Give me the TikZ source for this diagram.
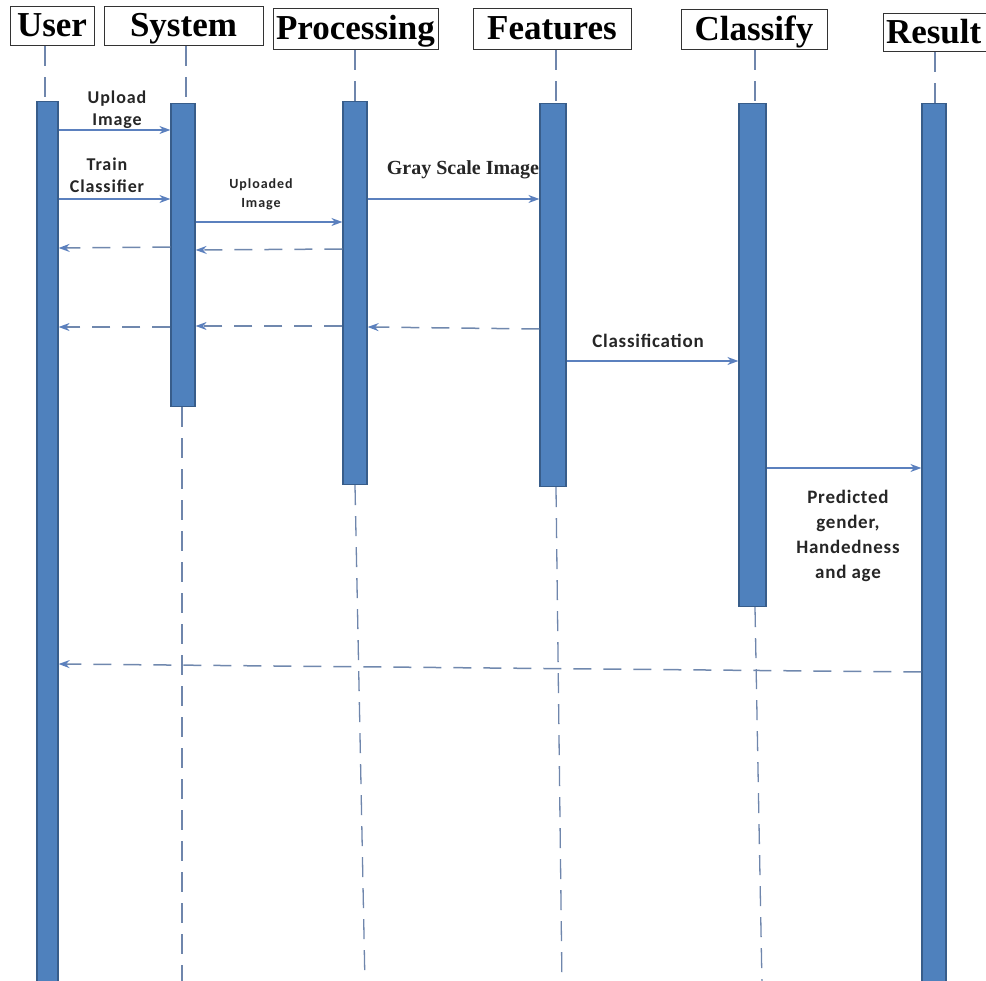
\documentclass[tikz,border=0pt]{standalone}
\usepackage{fontspec}
\setmainfont{Liberation Serif}
\newfontfamily\lblfont{Carlito}
\usetikzlibrary{arrows.meta}
\definecolor{barfill}{HTML}{4F81BD}
\definecolor{barline}{HTML}{385D8A}
\definecolor{msgcol}{HTML}{5B80BE}
\definecolor{retcol}{HTML}{7088AE}
\definecolor{lifecol}{HTML}{6F86AC}
\begin{document}
\begin{tikzpicture}[x=1pt,y=-1pt,
  header/.style={draw=black!80,line width=1pt,inner sep=0pt,
    font=\fontsize{35}{38}\selectfont\bfseries,text height=24pt,text depth=3pt},
  actbar/.style={draw=barline,fill=barfill,line width=1.2pt,inner sep=0pt,anchor=north},
  lifeline/.style={draw=lifecol,line width=1.3pt,dash pattern=on 20pt off 11pt},
  msg/.style={draw=msgcol,line width=1.5pt,-{Stealth[length=11pt,width=8pt]}},
  ret/.style={draw=retcol,line width=1.5pt,dash pattern=on 18pt off 12pt,
    -{Stealth[length=11pt,width=8pt,color=msgcol]}},
  lbl/.style={font=\lblfont\bfseries\fontsize{18}{22}\selectfont\addfontfeature{LetterSpace=5},
    align=center,inner sep=0pt,text=black!85},
  smalllbl/.style={font=\lblfont\bfseries\fontsize{14}{19}\selectfont\addfontfeature{LetterSpace=7},
    align=center,inner sep=0pt,text=black!85},
  widelbl/.style={font=\lblfont\bfseries\fontsize{19}{25}\selectfont\addfontfeature{LetterSpace=4},
    align=center,inner sep=0pt,text=black!85},
  seriflbl/.style={font=\bfseries\fontsize{20}{22}\selectfont,inner sep=0pt,text=black!85}]
\useasboundingbox (0,0) rectangle (986,981);

% participant headers
\node[header,minimum width=84pt,minimum height=39pt] (hUser) at (52,26.5) {User};
\node[header,minimum width=159pt,minimum height=39pt] (hSys) at (183.5,26.5) {System};
\node[header,minimum width=165pt,minimum height=41pt] (hProc) at (355.5,29.5) {Processing};
\node[header,minimum width=158pt,minimum height=41pt] (hFeat) at (552,29.5) {Features};
\node[header,minimum width=146pt,minimum height=40pt] (hCls) at (754,30) {Classify};
\node[header,minimum width=110pt,minimum height=38pt,text width=104pt,align=left] (hRes) at (938,33) {Result};

% activation bars
\node[actbar,minimum width=21pt,minimum height=890pt] (uBar) at (47.5,101) {};
\node[actbar,minimum width=24pt,minimum height=303pt] (sBar) at (183,103) {};
\node[actbar,minimum width=24pt,minimum height=383pt] (pBar) at (355,101) {};
\node[actbar,minimum width=26pt,minimum height=383pt] (fBar) at (553,103) {};
\node[actbar,minimum width=27pt,minimum height=503pt] (cBar) at (752.5,103) {};
\node[actbar,minimum width=24pt,minimum height=888pt] (rBar) at (934,103) {};

% lifeline ends below the bars
\coordinate (sEnd) at (182,985);
\coordinate (pEnd) at (365,985);
\coordinate (fEnd) at (562,985);
\coordinate (cEnd) at (762,985);

% lifelines above the bars
\draw[lifeline] (hUser.south -| 45,0) -- (45,101);
\draw[lifeline] (hSys.south -| 186,0) -- (186,103);
\draw[lifeline] (hProc.south -| 355,0) -- (355,101);
\draw[lifeline] (hFeat.south -| 556,0) -- (556,103);
\draw[lifeline] (hCls.south -| 755,0) -- (755,103);
\draw[lifeline] (hRes.south -| 935,0) -- (935,103);

% lifelines below the bars
\draw[lifeline] (sBar.south -| 182,0) -- (sEnd);
\draw[lifeline] (pBar.south) -- (pEnd);
\draw[lifeline] (fBar.south -| 556,0) -- (fEnd);
\draw[lifeline] (cBar.south -| 755,0) -- (cEnd);

% requests
\draw[msg] (uBar.east |- 0,130) -- (sBar.west |- 0,130);
\node[lbl] (lUpload) at (117,110) {Upload\\Image};
\draw[msg] (uBar.east |- 0,199) -- (sBar.west |- 0,199);
\node[lbl] (lTrain) at (107,175) {Train\\Classifier};
\draw[msg] (sBar.east |- 0,222) -- (pBar.west |- 0,222);
\node[smalllbl] (lUploaded) at (261,194) {Uploaded\\Image};
\draw[msg] (pBar.east |- 0,199) -- (fBar.west |- 0,199);
\node[seriflbl] (lGray) at (463,170) {Gray Scale Image};
\draw[msg] (fBar.east |- 0,361) -- (cBar.west |- 0,361);
\node[widelbl] (lClass) at (648,341) {Classification};
\draw[msg] (cBar.east |- 0,468) -- (rBar.west |- 0,468);
\node[widelbl] (lPred) at (848,536) {Predicted\\gender,\\Handedness\\and age};

% replies
\draw[ret] (pBar.west |- 0,249) -- (sBar.east |- 0,250);
\draw[ret] (sBar.west |- 0,247) -- (uBar.east |- 0,248);
\draw[ret] (fBar.west |- 0,329) -- (pBar.east |- 0,327);
\draw[ret] (pBar.west |- 0,326) -- (sBar.east |- 0,326);
\draw[ret] (sBar.west |- 0,327) -- (uBar.east |- 0,327);
\draw[ret] (rBar.west |- 0,672) -- (uBar.east |- 0,664);
\end{tikzpicture}
\end{document}
